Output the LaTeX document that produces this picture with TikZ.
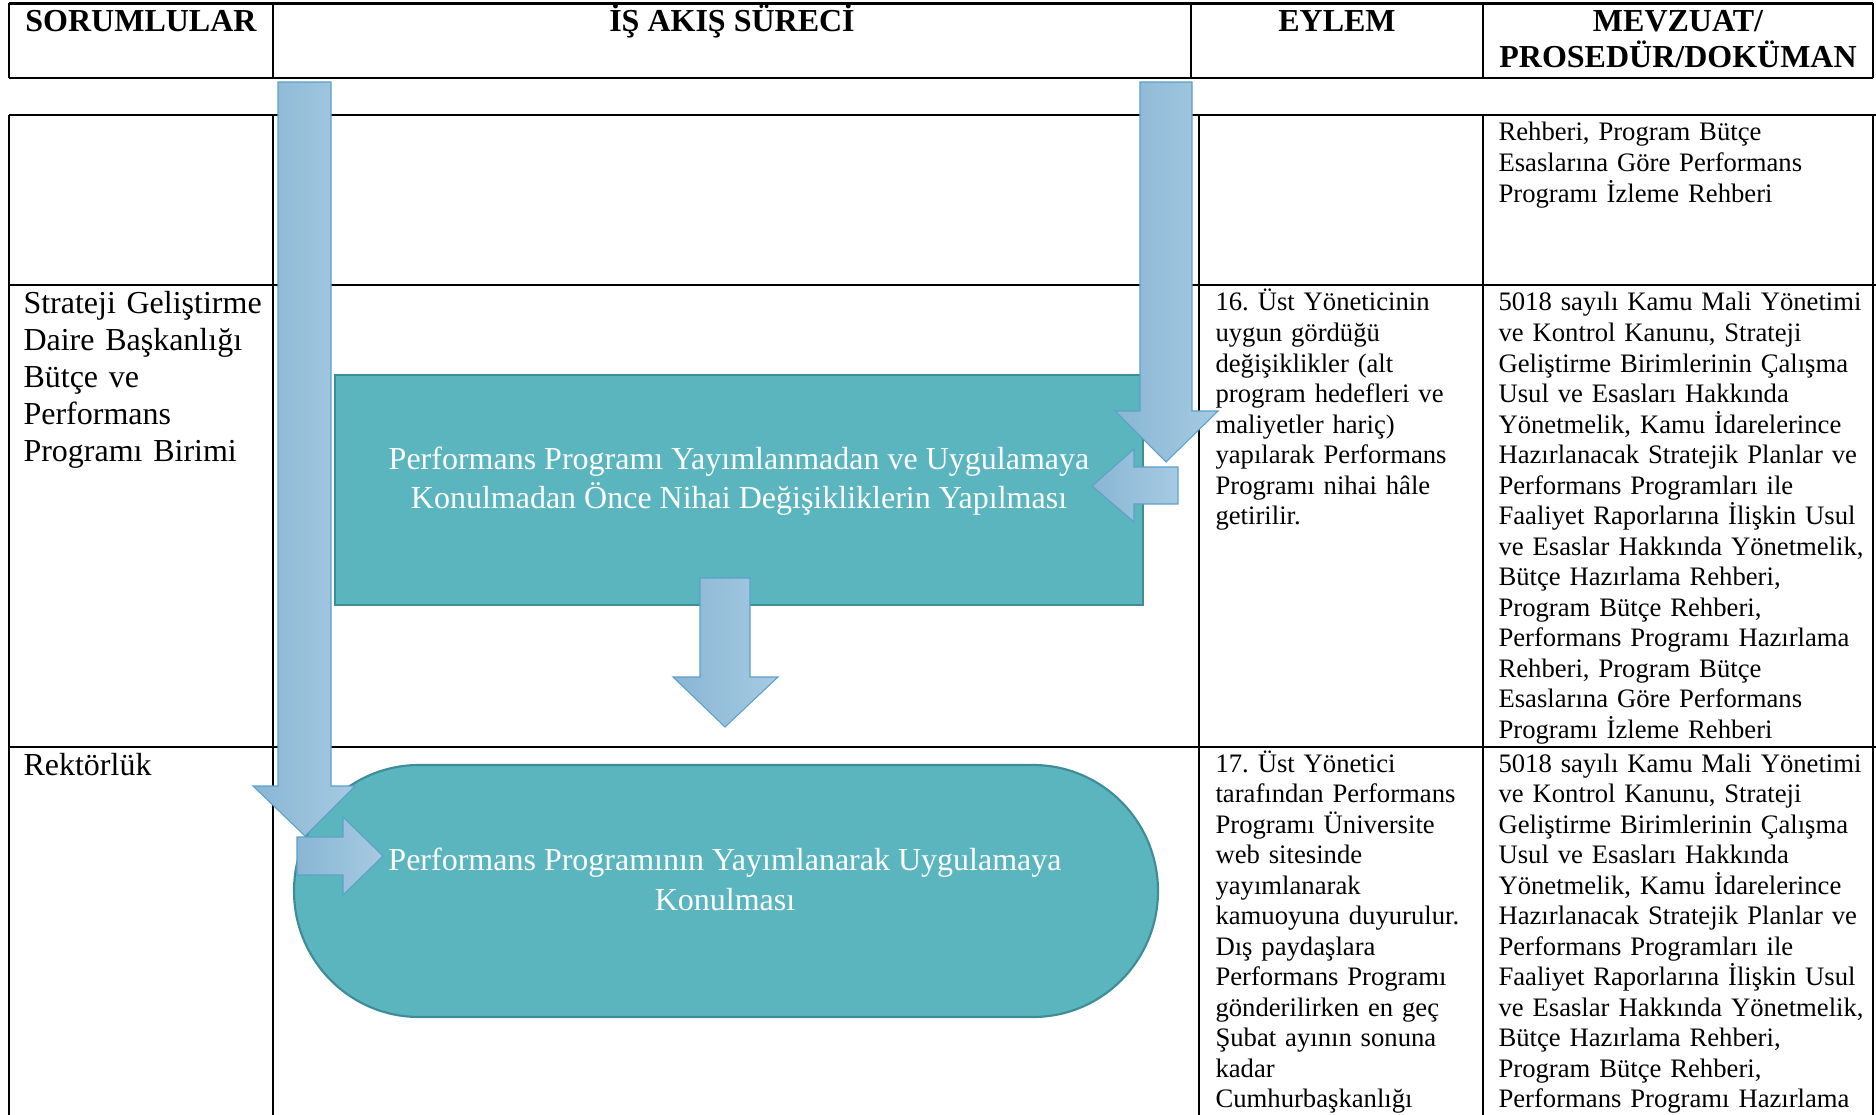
\documentclass[tikz,border=0pt]{standalone}
\usepackage{fontspec}
\setmainfont{Liberation Serif}
\usepackage{tikz}
\definecolor{boxfill}{RGB}{90, 181, 191}
\definecolor{boxline}{RGB}{62, 140, 150}
\definecolor{arrowdark}{RGB}{137, 182, 212}
\definecolor{arrowlight}{RGB}{166, 202, 226}
\definecolor{arrowline}{RGB}{92, 160, 202}
\frenchspacing

\begin{document}
\begin{tikzpicture}[x=0.375pt, y=-0.375pt,
  hrule/.style={line width=0.85pt},
  vrule/.style={line width=0.5pt},
  head/.style={inner sep=0pt, anchor=base, align=center, font=\fontsize{12}{13.5}\selectfont\bfseries},
  unit/.style={inner sep=0pt, anchor=base west, text width=240, align=left, font=\fontsize{12}{13.85}\selectfont},
  cell/.style={inner sep=0pt, anchor=base west, text width=370, align=left, font=\fontsize{10}{11.44}\selectfont},
  flowtext/.style={inner sep=0pt, anchor=base, align=center, text=white},
  blockarrow/.style={draw=arrowline, line width=0.4pt, left color=arrowdark, right color=arrowlight}]
  \useasboundingbox (0, 0) rectangle (1876, 1115);
  \clip (0, 0) rectangle (1876, 1115);

  \draw [hrule] (9, 3.5) -- (1873, 3.5);
  \draw [hrule] (9, 78) -- (1873, 78);
  \foreach \x in {9, 273, 1191, 1483, 1873}
    \draw [vrule] (\x, 3.5) -- (\x, 78);
  \node [head] (hsor) at (141, 32) {SORUMLULAR};
  \node [head] (hflow) at (732, 32) {İŞ AKIŞ SÜRECİ};
  \node [head] (hact) at (1337, 32) {EYLEM};
  \node [head] (hdoc) at (1678, 68) {MEVZUAT/\\PROSEDÜR/DOKÜMAN};

  \foreach \y in {115, 285, 747}
    \draw [hrule] (9, \y) -- (1876, \y);
  \foreach \x in {9, 273, 1199, 1483, 1873}
    \draw [vrule] (\x, 115) -- (\x, 1120);

  \node [unit] (unitsgb) at (23, 314) {Strateji Geliştirme\\Daire Başkanlığı\\Bütçe ve\\Performans\\Programı Birimi};
  \node [unit] (unitrek) at (23, 775) {Rektörlük};

  \node [cell] (doctop) at (1498, 141) {Rehberi, Program Bütçe\\Esaslarına Göre Performans\\Programı İzleme Rehberi};
  \node [cell] (act16) at (1215, 311) {16. Üst Yöneticinin\\uygun gördüğü\\değişiklikler (alt\\program hedefleri ve\\maliyetler hariç)\\yapılarak Performans\\Programı nihai hâle\\getirilir.};
  \node [cell] (doc16) at (1498, 311) {5018 sayılı Kamu Mali Yönetimi\\ve Kontrol Kanunu, Strateji\\Geliştirme Birimlerinin Çalışma\\Usul ve Esasları Hakkında\\Yönetmelik, Kamu İdarelerince\\Hazırlanacak Stratejik Planlar ve\\Performans Programları ile\\Faaliyet Raporlarına İlişkin Usul\\ve Esaslar Hakkında Yönetmelik,\\Bütçe Hazırlama Rehberi,\\Program Bütçe Rehberi,\\Performans Programı Hazırlama\\Rehberi, Program Bütçe\\Esaslarına Göre Performans\\Programı İzleme Rehberi};
  \node [cell] (act17) at (1215, 772) {17. Üst Yönetici\\tarafından Performans\\Programı Üniversite\\web sitesinde\\yayımlanarak\\kamuoyuna duyurulur.\\Dış paydaşlara\\Performans Programı\\gönderilirken en geç\\Şubat ayının sonuna\\kadar\\Cumhurbaşkanlığı};
  \node [cell] (doc17) at (1498, 772) {5018 sayılı Kamu Mali Yönetimi\\ve Kontrol Kanunu, Strateji\\Geliştirme Birimlerinin Çalışma\\Usul ve Esasları Hakkında\\Yönetmelik, Kamu İdarelerince\\Hazırlanacak Stratejik Planlar ve\\Performans Programları ile\\Faaliyet Raporlarına İlişkin Usul\\ve Esaslar Hakkında Yönetmelik,\\Bütçe Hazırlama Rehberi,\\Program Bütçe Rehberi,\\Performans Programı Hazırlama};

  \draw [fill=boxfill, draw=boxline, line width=0.8pt] (335, 375) rectangle (1143, 605);
  \node [flowtext, font=\fontsize{12}{14.25}\selectfont] (finaltext) at (739, 508) {Performans Programı Yayımlanmadan ve Uygulamaya\\Konulmadan Önce Nihai Değişikliklerin Yapılması};

  \draw [fill=boxfill, draw=boxline, line width=0.8pt] (419, 765) -- (1033, 765) arc (-90:90:125 and 126) -- (419, 1017) arc (90:270:125 and 126) -- cycle;
  \node [flowtext, font=\fontsize{12}{15}\selectfont] (publishtext) at (725, 910) {Performans Programının Yayımlanarak Uygulamaya\\Konulması};

  \draw [blockarrow] (278, 82) -- (331, 82) -- (331, 786) -- (355, 786) -- (305, 836) -- (253, 786) -- (278, 786) -- cycle;
  \draw [blockarrow] (1140, 82) -- (1192, 82) -- (1192, 411) -- (1218, 411) -- (1166, 462) -- (1115, 411) -- (1140, 411) -- cycle;
  \draw [blockarrow] (1178, 467) -- (1178, 504) -- (1134, 504) -- (1134, 522) -- (1092, 486) -- (1134, 449) -- (1134, 467) -- cycle;
  \draw [blockarrow] (700, 578) -- (750, 578) -- (750, 677) -- (778, 677) -- (725, 727) -- (673, 677) -- (700, 677) -- cycle;
  \draw [blockarrow] (297, 837) -- (343, 837) -- (343, 817) -- (383, 856) -- (343, 895) -- (343, 875) -- (297, 875) -- cycle;

\end{tikzpicture}
\end{document}
